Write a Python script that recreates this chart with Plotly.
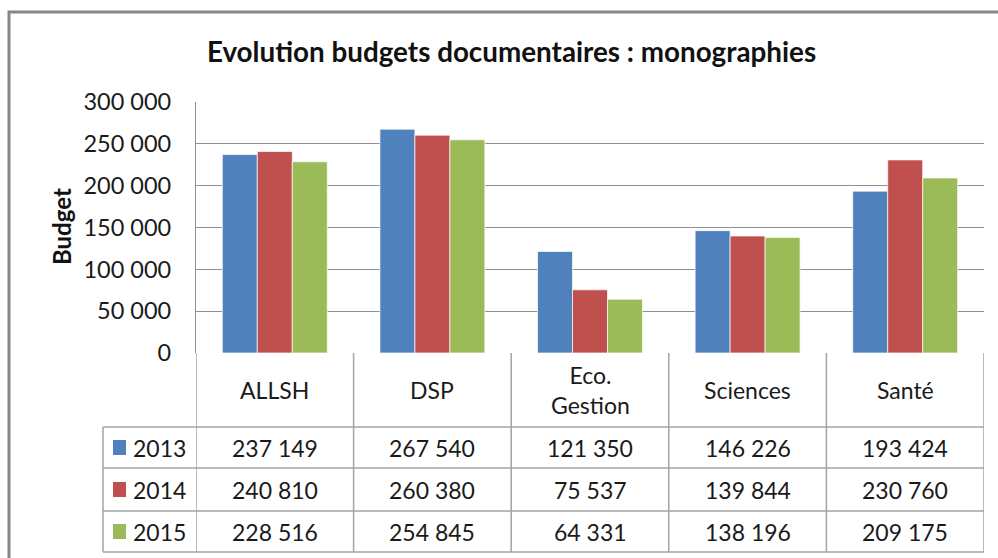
import plotly.graph_objects as go

categories = ["ALLSH", "DSP", "Eco.<br>Gestion", "Sciences", "Santé"]
years = ["2013", "2014", "2015"]
budget_2013 = [237149, 267540, 121350, 146226, 193424]
budget_2014 = [240810, 260380, 75537, 139844, 230760]
budget_2015 = [228516, 254845, 64331, 138196, 209175]
tick_values = [0, 50000, 100000, 150000, 200000, 250000, 300000]
tick_labels = ["0", "50 000", "100 000", "150 000", "200 000", "250 000", "300 000"]

series = [budget_2013, budget_2014, budget_2015]
colors = ["#4F81BD", "#C0504D", "#9BBB59"]

OFF = 0
W, H = 998, 558
L, T = 196, 102
R = W - 984
B = H - 353
PW = W - L - R
PH = H - T - B


def px_x(px):
    return (px - OFF - L) / PW


def px_y(py):
    return (H - B - (py - OFF)) / PH


FONT = "Lato, 'Open Sans', sans-serif"
GRID = "#8f8f8f"
TLINE = "#a3a3a3"

fig = go.Figure()
for yr, vals, col in zip(years, series, colors):
    fig.add_trace(go.Bar(
        x=categories, y=vals, name=yr,
        marker=dict(color=col, line=dict(color="rgba(255,255,255,0.7)", width=1)),
    ))

shapes = []
annotations = []

# outer chart border (extends past right/bottom edges of the picture)
shapes.append(dict(type="rect", xref="paper", yref="paper",
                   x0=px_x(9), x1=px_x(1010), y0=px_y(12), y1=px_y(570),
                   line=dict(color="#878787", width=3)))

row_bounds = [px_y(427), px_y(468), px_y(511), px_y(552)]
y_table_bottom = row_bounds[-1]
x_leg_left = px_x(103)

for yb in row_bounds:
    shapes.append(dict(type="line", xref="paper", yref="paper",
                       x0=x_leg_left, x1=1, y0=yb, y1=yb,
                       line=dict(color=TLINE, width=1.5)))
for i in range(len(categories) + 1):
    shapes.append(dict(type="line", xref="x", yref="paper",
                       x0=i - 0.5, x1=i - 0.5, y0=0, y1=y_table_bottom,
                       line=dict(color=TLINE, width=1.5)))
shapes.append(dict(type="line", xref="paper", yref="paper",
                   x0=x_leg_left, x1=x_leg_left, y0=row_bounds[0], y1=y_table_bottom,
                   line=dict(color=TLINE, width=1.5)))

cell_font = dict(family=FONT, size=23, color="#1a1a1a")

for c in categories:
    annotations.append(dict(x=c, y=px_y(390), xref="x", yref="paper",
                            text=c, showarrow=False, font=cell_font,
                            xanchor="center", yanchor="middle"))

row_centers = [px_y(447.5), px_y(489.5), px_y(531.5)]
for yr, vals, col, yc in zip(years, series, colors, row_centers):
    shapes.append(dict(type="rect", xref="paper", yref="paper",
                       x0=px_x(113), x1=px_x(126),
                       y0=yc + 7.5 / PH, y1=yc - 7.5 / PH,
                       fillcolor=col, line=dict(width=0)))
    annotations.append(dict(x=px_x(131), y=yc, xref="paper", yref="paper",
                            text=yr, showarrow=False, font=cell_font,
                            xanchor="left", yanchor="middle"))
    for c, v in zip(categories, vals):
        annotations.append(dict(x=c, y=yc, xref="x", yref="paper",
                                text=f"{v:,}".replace(",", " "), showarrow=False,
                                font=cell_font, xanchor="center", yanchor="middle"))

annotations.append(dict(x=px_x(61), y=px_y(227), xref="paper", yref="paper",
                        text="<b>Budget</b>", textangle=-90, showarrow=False,
                        font=dict(family=FONT, size=24, color="#111"),
                        xanchor="center", yanchor="middle"))

fig.update_layout(
    width=W, height=H,
    margin=dict(l=L, r=R, t=T, b=B, pad=0),
    paper_bgcolor="white", plot_bgcolor="white",
    barmode="group", bargap=0.334, bargroupgap=0,
    showlegend=False,
    title=dict(text="<b>Evolution budgets documentaires : monographies</b>",
               x=511.5 / W, xanchor="center", y=1 - 52 / H, yanchor="middle",
               font=dict(family=FONT, size=27.8, color="#111")),
    xaxis=dict(range=[-0.5, 4.5], showticklabels=False, showgrid=False,
               zeroline=False, showline=False, ticks=""),
    yaxis=dict(range=[0, 300000], tickvals=tick_values, ticktext=tick_labels,
               showgrid=True, gridcolor=GRID, gridwidth=1.2,
               zeroline=False, showline=True, linecolor=GRID, linewidth=1.2,
               ticks="", ticklabelstandoff=19,
               tickfont=dict(family=FONT, size=23.5, color="#1a1a1a")),
    shapes=shapes,
    annotations=annotations,
)

fig.write_html(
    "out.html",
    config={"displayModeBar": False},
    post_script="document.body.style.margin='0';document.body.style.overflow='hidden';",
)
